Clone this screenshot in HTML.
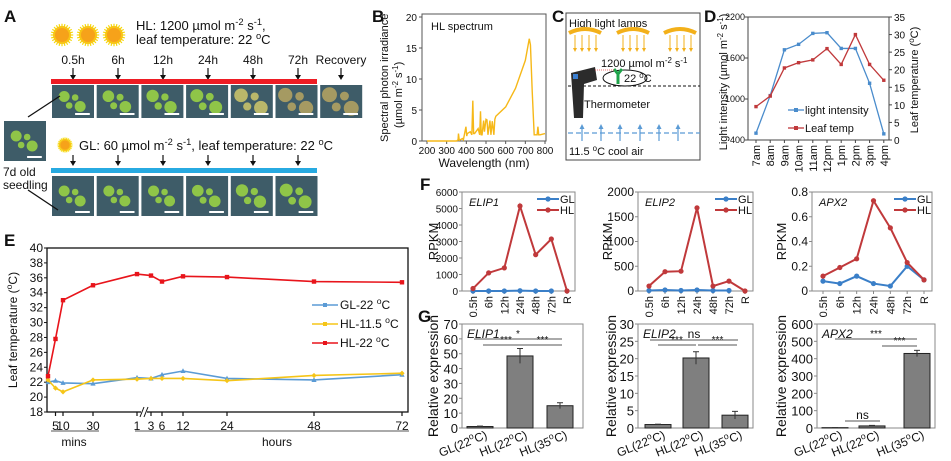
<!DOCTYPE html>
<html><head><meta charset="utf-8"><style>
html,body{margin:0;padding:0;background:#fff;}
svg{display:block;font-family:"Liberation Sans",sans-serif;}
</style></head><body>
<svg id="chart" width="951" height="461" viewBox="0 0 951 461" xmlns="http://www.w3.org/2000/svg"></svg>
<script>
// ---------- DATA ----------
// Panel B spectrum
const specWl = [200,350,358,360,364,380,385,398,402,405,420,428,433,437,442,460,468,472,476,480,488,492,500,505,510,520,525,532,540,545,550,600,650,700,720,726,735,745,760,764,768,775,800];
const specVal = [0,0,0.2,1.2,0.1,0.4,0.2,2.3,0.8,1.2,1.5,1,6.5,1.2,1.2,2,1,4.8,1,1,3.3,1.5,3.5,3.4,1,3.3,1,3.2,1,3.5,4,5.5,8.5,13,16.5,15.5,8,1,1,2.3,1,1,1.2];
// Panel D
const dHours = ["7am","8am","9am","10am","11am","12pm","1pm","2pm","3pm","4pm"];
const dLight = [500,1050,1720,1800,1960,1970,1740,1740,1230,490];
const dTemp = [9.5,12.5,20.5,22,22.8,26,21.5,30,21.5,17];
// Panel E
const eTimesMin = [0,5,10,30,60,180,360,720,1440,2880,4320];
const eGL = [22,22.2,21.9,21.8,22.6,22.5,23,23.5,22.5,22.3,23];
const eHL115 = [22.3,21.2,20.7,22.3,22.4,22.5,22.5,22.5,22.2,22.9,23.2];
const eHL22 = [22.8,27.8,33,35,36.5,36.3,35.5,36.2,36.1,35.5,35.4];
const eTickLabels = ["5","10","30","1","3","6","12","24","48","72"];
const eTickMin = [5,10,30,60,180,360,720,1440,2880,4320];
// Panel F
const fCats = ["0.5h","6h","12h","24h","48h","72h","R"];
const fElip1HL = [150,1100,1400,5150,2200,3150,0];
const fElip1GL = [0,0,0,20,0,0];
const fElip2HL = [100,390,400,1680,100,200,0];
const fElip2GL = [10,20,10,20,10,10];
const fApx2HL = [0.12,0.19,0.26,0.73,0.51,0.23,0.09];
const fApx2GL = [0.08,0.06,0.12,0.06,0.04,0.2,0.09];
// Panel G
const gCats = ["GL(22","HL(22","HL(35"];
const gElip1 = [1,48.5,15];
const gElip1Err = [0.3,5,2];
const gElip2 = [1,20.2,3.7];
const gElip2Err = [0.1,1.8,1.1];
const gApx2 = [2,12,430];
const gApx2Err = [0.5,3,18];

// ---------- HELPERS ----------
const NS='http://www.w3.org/2000/svg';
const svg=document.getElementById('chart');
function mk(tag,attrs,txt,parent){const e=document.createElementNS(NS,tag);for(const k in attrs)e.setAttribute(k,attrs[k]);if(txt!=null)e.textContent=txt;(parent||svg).appendChild(e);return e;}
function nm(e,n,i){


return e;}
function line(x1,y1,x2,y2,s,w,n,extra){const e=mk('line',Object.assign({x1,y1,x2,y2,stroke:s,'stroke-width':w||1},extra||{}));return nm(e,n||'line');}
function txt(x,y,t,size,n,extra){const e=mk('text',Object.assign({x,y,'font-size':size||11,fill:'#111'},extra||{}),t);return nm(e,n||'label');}
function sup(x,y,parts,size,n,extra){
 const e=mk('text',Object.assign({x,y,'font-size':size,fill:'#111'},extra||{}));
 parts.forEach(p=>{mk('tspan',p[1]?{'font-size':size*0.72,'baseline-shift':'super'}:{},p[0],e);});
 return nm(e,n||'label');}
function poly(pts,s,w,n){const e=mk('polyline',{points:pts.map(p=>p.join(',')).join(' '),fill:'none',stroke:s,'stroke-width':w});return nm(e,n);}
function lin(d0,d1,r0,r1){return v=>r0+(v-d0)*(r1-r0)/(d1-d0);}

// ---------- PANEL A ----------
txt(4,22,'A',17,'panel-a-label',{'font-weight':'bold'});
function sun(cx,cy,r,n){const g=nm(mk('g',{}),n);
 for(let i=0;i<24;i++){const a=i*Math.PI/12;mk('line',{x1:cx+Math.cos(a)*r*0.8,y1:cy+Math.sin(a)*r*0.8,x2:cx+Math.cos(a)*r*1.25,y2:cy+Math.sin(a)*r*1.25,stroke:'#f5d90a','stroke-width':1.2},null,g);}
 mk('circle',{cx,cy,r:r,fill:'#f8c515'},null,g);mk('circle',{cx,cy,r:r*0.78,fill:'#f6a21a'},null,g);}
sun(62,35,9,'hl-sun-1');sun(88,35,9,'hl-sun-2');sun(114,35,9,'hl-sun-3');
sup(136,30,[['HL: 1200 µmol m',0],['-2',1],[' s',0],['-1',1],[',',0]],13,'hl-condition-text');
sup(136,44,[['leaf temperature: 22 ',0],['o',1],['C',0]],13,'hl-temperature-text');
const aTimes=['0.5h','6h','12h','24h','48h','72h','Recovery'];
const aX=[73,118,163,208,253,298,341];
aTimes.forEach((t,i)=>{txt(aX[i],64,t,12,'hl-time-'+t,{'text-anchor':'middle'});
 line(aX[i],68,aX[i],78,'#111',1.2,'hl-arrow-'+i);nm(mk('path',{d:`M${aX[i]-3},75 L${aX[i]+3},75 L${aX[i]},80Z`,fill:'#111'}),'hl-arrowhead-'+i);});
nm(mk('rect',{x:51,y:79,width:266,height:5,fill:'#ee1c24'}),'hl-bar');
nm(mk('rect',{x:51,y:168,width:266,height:5,fill:'#27aae1'}),'gl-bar');
function seedling(x,y,w,h,stage,n){const g=nm(mk('g',{}),n);
 mk('rect',{x,y,width:w,height:h,fill:'#3e5c68'},null,g);
 const cx=x+w*0.48,cy=y+h*0.5;
 const col=stage>4?'#a59a62':stage>3?'#b9b76a':'#8fc548';
 const s=1+stage*0.06;
 [[-8,-5],[8,5],[-3,4],[3,-4]].forEach((o,i)=>mk('circle',{cx:cx+o[0]*s,cy:cy+o[1]*s,r:(i<2?5.5:3.3)*s,fill:col},null,g));
 mk('rect',{x:x+w*0.55,y:y+h-5,width:w*0.35,height:2,fill:'#fff'},null,g);}
for(let i=0;i<7;i++)seedling(52+i*44.7,85,42,33,i,'hl-seedling-'+i);
for(let i=0;i<6;i++)seedling(52+i*44.7,176,42,40,i>2?i-2:0,'gl-seedling-'+i);
seedling(4,121,42,40,0,'initial-seedling');
line(28,117,60,96,'#111',1.3,'arrow-to-hl');line(28,190,58,210,'#111',1.3,'arrow-to-gl');
txt(3,176,'7d old',12,'seedling-label-1');txt(3,189,'seedling',12,'seedling-label-2');
sun(65,145,6,'gl-sun');
sup(79,150,[['GL: 60 µmol m',0],['-2',1],[' s',0],['-1',1],[', leaf temperature: 22 ',0],['o',1],['C',0]],13,'gl-condition-text');
aX.slice(0,6).forEach((x,i)=>{line(x,155,x,164,'#111',1.2,'gl-arrow-'+i);nm(mk('path',{d:`M${x-3},161 L${x+3},161 L${x},166Z`,fill:'#111'}),'gl-arrowhead-'+i);});

// ---------- PANEL B ----------
txt(372,22,'B',17,'panel-b-label',{'font-weight':'bold'});
nm(mk('rect',{x:422,y:14,width:124,height:127,fill:'none',stroke:'#555','stroke-width':1}),'spectrum-frame');
const bx=lin(200,800,427,545), by=lin(0,20,141,17);
[0,5,10,15,20].forEach(v=>{line(419,by(v),422,by(v),'#555',1,'b-ytick');txt(417,by(v)+4,String(v),10,'b-ytick-label',{'text-anchor':'end'});});
[200,300,400,500,600,700,800].forEach(v=>{line(bx(v),141,bx(v),144,'#555',1,'b-xtick');txt(bx(v),154,String(v),10,'b-xtick-label',{'text-anchor':'middle'});});
txt(484,167,'Wavelength (nm)',12,'b-x-axis-title',{'text-anchor':'middle'});
txt(431,30,'HL spectrum',11,'b-inset-title');
sup(0,0,[['Spectral photon irradiance',0]],11,'b-y-axis-title',{transform:'translate(388,142) rotate(-90)'});
sup(0,0,[['(µmol m',0],['-2',1],[' s',0],['-1',1],[')',0]],11,'b-y-axis-unit',{transform:'translate(402,128) rotate(-90)'});
poly(specWl.map((w,i)=>[bx(w),by(specVal[i])]),'#f6b818',1.4,'hl-spectrum-line');

// ---------- PANEL C ----------
txt(552,22,'C',17,'panel-c-label',{'font-weight':'bold'});
nm(mk('rect',{x:566,y:13,width:134,height:147,fill:'none',stroke:'#444','stroke-width':1}),'setup-frame');
txt(569,27,'High light lamps',11,'lamps-label');
[585,633,680].forEach((cx,i)=>{nm(mk('path',{d:`M${cx-16},33 Q${cx},25 ${cx+16},33`,fill:'none',stroke:'#f3b019','stroke-width':4}),'lamp-'+i);
 [-10,-3,4,11].forEach(o=>{line(cx+o,35,cx+o,49,'#f3b019',1,'light-ray');nm(mk('path',{d:`M${cx+o-2},48 L${cx+o+2},48 L${cx+o},52Z`,fill:'#f3b019'}),'ray-head');});});
sup(601,67,[['1200 µmol m',0],['-2',1],[' s',0],['-1',1]],11,'c-light-text');
nm(mk('ellipse',{cx:625,cy:78,rx:22,ry:8,fill:'none',stroke:'#111','stroke-width':1}),'leaf-ellipse');
nm(mk('path',{d:'M614,69 L618,74 L622,69 M618,74 L618,84',fill:'none',stroke:'#1fa34a','stroke-width':3}),'seedling-icon');
sup(624,82,[['22 ',0],['o',1],['C',0]],11,'c-leaf-temp');
line(568,86,700,86,'#111',1,'c-dashed-line',{'stroke-dasharray':'3,2'});
nm(mk('path',{d:'M571,73 L595,67 L597,80 L584,84 L583,118 L574,118 Z',fill:'#2b2b2b'}),'thermometer-icon');
nm(mk('rect',{x:573,y:74,width:5,height:5,fill:'#3b7fd0'}),'thermometer-screen');
line(595,70,614,70,'#e44',0.8,'laser-line',{'stroke-dasharray':'1,1'});
txt(584,108,'Thermometer',11,'thermometer-label');
line(568,133,700,133,'#5b9bd5',1.3,'cool-air-line',{'stroke-dasharray':'5,3'});
[582,601,620,640,659,678].forEach((x,i)=>{line(x,127,x,141,'#5b9bd5',1.2,'cool-air-arrow-'+i);nm(mk('path',{d:`M${x-2.5},129 L${x+2.5},129 L${x},124Z`,fill:'#5b9bd5'}),'cool-air-head');});
sup(569,155,[['11.5 ',0],['o',1],['C cool air',0]],11,'cool-air-label');

// ---------- PANEL D ----------
txt(704,22,'D',17,'panel-d-label',{'font-weight':'bold'});
const dL=748,dR=889,dT=17,dB=140;
nm(mk('rect',{x:dL,y:dT,width:dR-dL,height:dB-dT,fill:'none',stroke:'#444'}),'d-frame');
const dyL=lin(400,2200,dB,dT), dyR=lin(0,35,dB,dT);
const dx=i=>756+i*14.2;
[400,1000,1600,2200].forEach(v=>{line(dL-3,dyL(v),dL,dyL(v),'#444',1,'d-left-tick');txt(dL-3,dyL(v)+3,String(v),9,'d-left-tick-label',{'text-anchor':'end'});});
[0,5,10,15,20,25,30,35].forEach(v=>{line(dR,dyR(v),dR+3,dyR(v),'#444',1,'d-right-tick');txt(dR+5,dyR(v)+4,String(v),10,'d-right-tick-label');});
dHours.forEach((h,i)=>{line(dx(i),dB,dx(i),dB+3,'#444',1,'d-xtick');txt(0,0,h,11,'d-xtick-label',{'text-anchor':'end',transform:`translate(${dx(i)+4},${dB+5}) rotate(-90)`});});
sup(0,0,[['Light intensity (µmol m',0],['-2',1],[' s',0],['-1',1],[')',0]],11,'d-left-axis-title',{'text-anchor':'middle',transform:'translate(727,82) rotate(-90)'});
sup(0,0,[['Leaf temperature (',0],['o',1],['C)',0]],11,'d-right-axis-title',{'text-anchor':'middle',transform:'translate(918,80) rotate(-90)'});
poly(dLight.map((v,i)=>[dx(i),dyL(v)]),'#4a8ccc',1.3,'light-intensity-line');
dLight.forEach((v,i)=>nm(mk('rect',{x:dx(i)-1.7,y:dyL(v)-1.7,width:3.4,height:3.4,fill:'#4a8ccc'}),'light-point-'+dHours[i]));
poly(dTemp.map((v,i)=>[dx(i),dyR(v)]),'#c0393b',1.3,'leaf-temp-line');
dTemp.forEach((v,i)=>nm(mk('rect',{x:dx(i)-1.7,y:dyR(v)-1.7,width:3.4,height:3.4,fill:'#c0393b'}),'temp-point-'+dHours[i]));
line(788,110,804,110,'#4a8ccc',1.3,'legend-light-line');nm(mk('rect',{x:794,y:108,width:4,height:4,fill:'#4a8ccc'}),'legend-light-marker');txt(805,114,'light intensity',11,'legend-light-intensity');
line(788,128,804,128,'#c0393b',1.3,'legend-temp-line');nm(mk('rect',{x:794,y:126,width:4,height:4,fill:'#c0393b'}),'legend-temp-marker');txt(805,132,'Leaf temp',11,'legend-leaf-temp');

// ---------- PANEL E ----------
txt(4,246,'E',17,'panel-e-label',{'font-weight':'bold'});
const eL=47,eR=408,eT=248,eB=412;
nm(mk('rect',{x:eL,y:eT,width:eR-eL,height:eB-eT,fill:'none',stroke:'#111','stroke-width':1.3}),'e-frame');
const eKnotD=[0,30,60,180,360,720,1440,2880,4320];
const eKnotR=[48,93,137,151,162,183,227,314,402];
function ex(t){if(t<=30)return 48+t*1.5;for(let i=2;i<eKnotD.length;i++){if(t<=eKnotD[i])return eKnotR[i-1]+(t-eKnotD[i-1])*(eKnotR[i]-eKnotR[i-1])/(eKnotD[i]-eKnotD[i-1]);}return eKnotR[eKnotR.length-1];}
const ey=lin(18,40,eB,eT);
for(let v=18;v<=40;v+=2){line(eL-3,ey(v),eL,ey(v),'#111',1,'e-ytick');txt(eL-4,ey(v)+4,String(v),12,'e-ytick-label',{'text-anchor':'end'});}
eTickMin.forEach((t,i)=>{line(ex(t),eB,ex(t),eB+4,'#111',1.2,'e-xtick');txt(ex(t),eB+18,eTickLabels[i],12,'e-xtick-label',{'text-anchor':'middle'});});
nm(mk('rect',{x:141,y:407,width:6,height:10,fill:'#fff'}),'axis-break-gap');
line(140,417,144,407,'#111',1,'axis-break-1');line(144,417,148,407,'#111',1,'axis-break-2');
line(51,431,99,431,'#555',1,'mins-bracket');line(135,431,409,431,'#555',1,'hours-bracket');
txt(74,446,'mins',12,'mins-label',{'text-anchor':'middle'});txt(277,446,'hours',12,'hours-label',{'text-anchor':'middle'});
sup(0,0,[['Leaf temperature (',0],['o',1],['C)',0]],12,'e-y-axis-title',{'text-anchor':'middle',transform:'translate(17,330) rotate(-90)'});
function eSeries(vals,col,n,shape){poly(vals.map((v,i)=>[ex(eTimesMin[i]),ey(v)]),col,1.6,n+'-line');
 vals.forEach((v,i)=>{const x=ex(eTimesMin[i]),y=ey(v);
  line(x,y-1.8,x,y+1.8,col,0.8,n+'-error-bar');
  const m=shape==='sq'?mk('rect',{x:x-2.2,y:y-2.2,width:4.4,height:4.4,fill:col}):shape==='tri'?mk('path',{d:`M${x},${y-2.8} L${x+2.6},${y+2} L${x-2.6},${y+2}Z`,fill:col}):mk('path',{d:`M${x},${y-2.6} L${x+2.6},${y} L${x},${y+2.6} L${x-2.6},${y}Z`,fill:col});
  nm(m,n+'-point-'+i);});}
eSeries(eGL,'#5b9bd5','gl-22','tri');
eSeries(eHL115,'#f5c518','hl-11.5','dia');
eSeries(eHL22,'#e8141b','hl-22','sq');
[['#5b9bd5',['GL-22 ','o','C'],'legend-gl-22'],['#f5c518',['HL-11.5 ','o','C'],'legend-hl-11.5'],['#e8141b',['HL-22 ','o','C'],'legend-hl-22']].forEach((l,i)=>{const y=305+i*19;
 line(312,y,338,y,l[0],1.6,l[2]+'-line');nm(mk('rect',{x:323,y:y-2,width:4,height:4,fill:l[0]}),l[2]+'-marker');
 sup(340,y+4,[[l[1][0],0],[l[1][1],1],[l[1][2],0]],12,l[2]);});

// ---------- PANEL F ----------
txt(420,190,'F',17,'panel-f-label',{'font-weight':'bold'});
function fPlot(L,R,max,step,fmt,small,hl,gl,gene,id){
 const T=192,B=291;
 nm(mk('rect',{x:L,y:T,width:R-L,height:B-T,fill:'none',stroke:'#888'}),id+'-frame');
 const y=lin(0,max,B,T), x=i=>L+11+i*(R-L-19)/6;
 for(let k=0;k*step<=max+1e-9;k++){const v=k*step;line(L-3,y(v),L,y(v),'#888',1,id+'-ytick');txt(L-4,y(v)+4,fmt(v),small?10:12,id+'-ytick-label',{'text-anchor':'end'});}
 fCats.forEach((c,i)=>{line(x(i),B,x(i),B+3,'#888',1,id+'-xtick');txt(0,0,c,11,id+'-xtick-label',{'text-anchor':'end',transform:`translate(${x(i)+4},${B+5}) rotate(-90)`});});
 txt(0,0,'RPKM',13,id+'-y-axis-title',{'text-anchor':'middle',transform:`translate(${L-(small?24:26)},${(T+B)/2}) rotate(-90)`});
 txt(L+7,T+14,gene,11,id+'-gene-title',{'font-style':'italic'});
 poly(gl.map((v,i)=>[x(i),y(v)]),'#3a7fc8',2,id+'-gl-line');gl.forEach((v,i)=>nm(mk('circle',{cx:x(i),cy:y(v),r:2.6,fill:'#3a7fc8'}),id+'-gl-point-'+fCats[i]));
 poly(hl.map((v,i)=>[x(i),y(v)]),'#c0393b',2,id+'-hl-line');hl.forEach((v,i)=>nm(mk('circle',{cx:x(i),cy:y(v),r:2.6,fill:'#c0393b'}),id+'-hl-point-'+fCats[i]));
 const lx=R-38;
 line(lx,T+7,lx+22,T+7,'#3a7fc8',2,id+'-legend-gl-line');nm(mk('circle',{cx:lx+11,cy:T+7,r:2.6,fill:'#3a7fc8'}),id+'-legend-gl-marker');txt(lx+23,T+11,'GL',11,id+'-legend-gl');
 line(lx,T+18,lx+22,T+18,'#c0393b',2,id+'-legend-hl-line');nm(mk('circle',{cx:lx+11,cy:T+18,r:2.6,fill:'#c0393b'}),id+'-legend-hl-marker');txt(lx+23,T+22,'HL',11,id+'-legend-hl');}
fPlot(462,575,6000,1000,v=>String(v),true,fElip1HL,fElip1GL,'ELIP1','f-elip1');
fPlot(638,753,2000,500,v=>String(v),false,fElip2HL,fElip2GL,'ELIP2','f-elip2');
fPlot(812,932,0.8,0.2,v=>v===0?'0':v.toFixed(1),false,fApx2HL,fApx2GL,'APX2','f-apx2');

// ---------- PANEL G ----------
txt(418,322,'G',17,'panel-g-label',{'font-weight':'bold'});
function gPlot(L,R,max,step,vals,errs,centers,gene,id,sig,titleX){
 const T=324,B=428;
 nm(mk('rect',{x:L,y:T,width:R-L,height:B-T,fill:'none',stroke:'#888'}),id+'-frame');
 const y=lin(0,max,B,T);
 for(let v=0;v<=max;v+=step){line(L-3,y(v),L,y(v),'#888',1,id+'-ytick');txt(L-4,y(v)+5,String(v),13,id+'-ytick-label',{'text-anchor':'end'});}
 txt(0,0,'Relative expression',14,id+'-y-axis-title',{'text-anchor':'middle',transform:`translate(${titleX},376) rotate(-90)`});
 vals.forEach((v,i)=>{const c=centers[i];
  nm(mk('rect',{x:c-13,y:y(v),width:26,height:B-y(v),fill:'#7f7f7f',stroke:'#222','stroke-width':1}),id+'-bar-'+i);
  line(c,y(v+errs[i]),c,y(Math.max(0,v-errs[i])),'#333',1,id+'-error-'+i);line(c-3,y(v+errs[i]),c+3,y(v+errs[i]),'#333',1,id+'-error-cap-'+i);
  sup(0,0,[[gCats[i],0],['o',1],['C)',0]],12,id+'-xtick-label-'+i,{'text-anchor':'end',transform:`translate(${c+8},${B+10}) rotate(-22)`});});
 sig.forEach(s=>{line(s[0],s[1],s[2],s[1],'#555',1,id+'-sig-line');txt((s[0]+s[2])/2,s[1]-2,s[3],s[3]==='ns'?12:10,id+'-sig-label',{'text-anchor':'middle'});});
 txt(L+5,T+14,gene,12,id+'-gene-title',{'font-style':'italic'});}
gPlot(462,583,70,10,gElip1,gElip1Err,[480,520,560],'ELIP1','g-elip1',[[474,339,562,'*'],[483,345,529,'***'],[523,345,562,'***']],438);
gPlot(638,753,30,5,gElip2,gElip2Err,[658,696,735],'ELIP2','g-elip2',[[650,340,738,'ns'],[658,345,696,'***'],[698,345,737,'***']],616);
gPlot(817,935,600,100,gApx2,gApx2Err,[835,872,917],'APX2','g-apx2',[[835,339,917,'***'],[882,346,917,'***'],[845,421,880,'ns']],786);
</script>
</body></html>
